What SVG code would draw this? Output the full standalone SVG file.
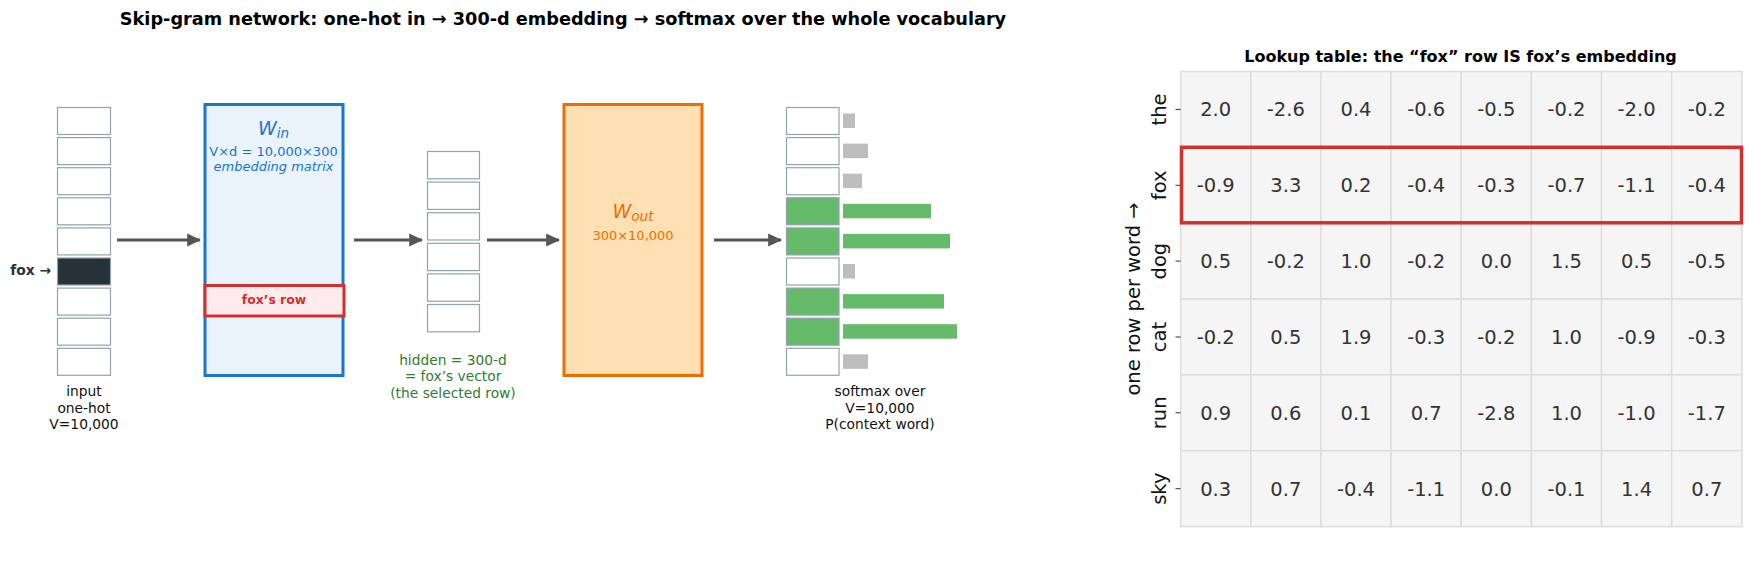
<svg xmlns="http://www.w3.org/2000/svg" width="1753" height="587" viewBox="0 0 1753 587">
<style>
text{font-family:"DejaVu Sans","Liberation Sans",sans-serif}
.cell{fill:#fff;stroke:#90A4AE;stroke-width:1.2}
.gcell{fill:#66BB6A;stroke:#90A4AE;stroke-width:1.2}
.lbl{font-size:13.8px;fill:#111;text-anchor:middle}
.conn{stroke:#555;stroke-width:2.8;fill:none}
.tc{fill:#F5F5F5;stroke:#DDDDDD;stroke-width:1.5}
.num{font-size:19.5px;fill:#333;text-anchor:middle}
.row{font-size:19.5px;fill:#111;text-anchor:middle}
.tick{stroke:#333;stroke-width:1}
</style>
<defs>
<marker id="ah" markerUnits="userSpaceOnUse" markerWidth="14" markerHeight="14" viewBox="0 0 12 12" refX="11" refY="6" orient="auto">
<path d="M0,0.5 L12,6 L0,11.5 Z" fill="#555"/>
</marker>
</defs>
<text x="563" y="25" font-size="17.7" font-weight="bold" text-anchor="middle" fill="#000">Skip-gram network: one-hot in → 300-d embedding → softmax over the whole vocabulary</text>

<g id="input">
<rect class="cell" x="57.5" y="107.5" width="53" height="27"/>
<rect class="cell" x="57.5" y="137.6" width="53" height="27"/>
<rect class="cell" x="57.5" y="167.7" width="53" height="27"/>
<rect class="cell" x="57.5" y="197.8" width="53" height="27"/>
<rect class="cell" x="57.5" y="227.9" width="53" height="27"/>
<rect x="57.5" y="258" width="53" height="27" fill="#263238" stroke="#90A4AE" stroke-width="1.2"/>
<rect class="cell" x="57.5" y="288.1" width="53" height="27"/>
<rect class="cell" x="57.5" y="318.2" width="53" height="27"/>
<rect class="cell" x="57.5" y="348.3" width="53" height="27"/>
<text x="51" y="274.5" font-size="13.8" font-weight="bold" fill="#263238" text-anchor="end">fox →</text>
<text class="lbl" x="84" y="396">input</text>
<text class="lbl" x="84" y="412.5">one-hot</text>
<text class="lbl" x="84" y="429">V=10,000</text>
</g>

<g id="w_in">
<rect x="205" y="104.5" width="138" height="271" fill="#EAF2FB" stroke="#1976D2" stroke-width="3"/>
<text x="273.5" y="135" fill="#1976D2" text-anchor="middle"><tspan font-size="19" font-style="italic">W</tspan><tspan font-size="13.5" font-style="italic" dy="3">in</tspan></text>
<text x="273.5" y="155.5" font-size="13" fill="#1976D2" text-anchor="middle">V×d = 10,000×300</text>
<text x="273.5" y="171" font-size="13" font-style="italic" fill="#1976D2" text-anchor="middle">embedding matrix</text>
<rect x="205" y="285.5" width="139" height="30.5" fill="#FFEBEE" stroke="#D32F2F" stroke-width="3"/>
<text x="274" y="304" font-size="12.4" font-weight="bold" fill="#D32F2F" text-anchor="middle">fox’s row</text>
</g>

<g id="hidden">
<rect class="cell" x="427.5" y="151.5" width="52" height="27.3"/>
<rect class="cell" x="427.5" y="182.1" width="52" height="27.3"/>
<rect class="cell" x="427.5" y="212.7" width="52" height="27.3"/>
<rect class="cell" x="427.5" y="243.3" width="52" height="27.3"/>
<rect class="cell" x="427.5" y="273.9" width="52" height="27.3"/>
<rect class="cell" x="427.5" y="304.5" width="52" height="27.3"/>
<text class="lbl" x="453" y="365" style="fill:#2E7D32">hidden = 300-d</text>
<text class="lbl" x="453" y="381.3" style="fill:#2E7D32">= fox’s vector</text>
<text class="lbl" x="453" y="397.5" style="fill:#2E7D32">(the selected row)</text>
</g>

<g id="w_out">
<rect x="564" y="104.5" width="138" height="271" fill="#FFE0B2" stroke="#EF6C00" stroke-width="3"/>
<text x="633" y="218" fill="#EF6C00" text-anchor="middle"><tspan font-size="19" font-style="italic">W</tspan><tspan font-size="13.5" font-style="italic" dy="3">out</tspan></text>
<text x="633" y="240" font-size="13" fill="#EF6C00" text-anchor="middle">300×10,000</text>
</g>

<g id="output">
<rect class="cell" x="786.5" y="107.5" width="52.5" height="27"/>
<rect class="cell" x="786.5" y="137.6" width="52.5" height="27"/>
<rect class="cell" x="786.5" y="167.7" width="52.5" height="27"/>
<rect class="gcell" x="786.5" y="197.8" width="52.5" height="27"/>
<rect class="gcell" x="786.5" y="227.9" width="52.5" height="27"/>
<rect class="cell" x="786.5" y="258" width="52.5" height="27"/>
<rect class="gcell" x="786.5" y="288.1" width="52.5" height="27"/>
<rect class="gcell" x="786.5" y="318.2" width="52.5" height="27"/>
<rect class="cell" x="786.5" y="348.3" width="52.5" height="27"/>
<rect x="843" y="113.5" width="12" height="14.5" fill="#BDBDBD"/>
<rect x="843" y="143.6" width="25" height="14.5" fill="#BDBDBD"/>
<rect x="843" y="173.7" width="19" height="14.5" fill="#BDBDBD"/>
<rect x="843" y="203.8" width="88" height="14.5" fill="#66BB6A"/>
<rect x="843" y="233.9" width="107" height="14.5" fill="#66BB6A"/>
<rect x="843" y="264" width="12" height="14.5" fill="#BDBDBD"/>
<rect x="843" y="294.1" width="101" height="14.5" fill="#66BB6A"/>
<rect x="843" y="324.2" width="114" height="14.5" fill="#66BB6A"/>
<rect x="843" y="354.3" width="25" height="14.5" fill="#BDBDBD"/>
<text class="lbl" x="880" y="396">softmax over</text>
<text class="lbl" x="880" y="412.5">V=10,000</text>
<text class="lbl" x="880" y="429">P(context word)</text>
</g>

<g id="connectors">
<line class="conn" x1="117" y1="240" x2="200" y2="240" marker-end="url(#ah)"/>
<line class="conn" x1="354" y1="240" x2="422" y2="240" marker-end="url(#ah)"/>
<line class="conn" x1="487" y1="240" x2="559" y2="240" marker-end="url(#ah)"/>
<line class="conn" x1="714" y1="240" x2="781" y2="240" marker-end="url(#ah)"/>
</g>

<g id="table">
<text x="1460.5" y="62" font-size="16" font-weight="bold" fill="#000" text-anchor="middle">Lookup table: the “fox” row IS fox’s embedding</text>
<g id="cells">
<rect class="tc" x="1180.6" y="71.5" width="70.16" height="75.85"/><rect class="tc" x="1250.76" y="71.5" width="70.16" height="75.85"/><rect class="tc" x="1320.92" y="71.5" width="70.16" height="75.85"/><rect class="tc" x="1391.08" y="71.5" width="70.16" height="75.85"/><rect class="tc" x="1461.24" y="71.5" width="70.16" height="75.85"/><rect class="tc" x="1531.4" y="71.5" width="70.16" height="75.85"/><rect class="tc" x="1601.56" y="71.5" width="70.16" height="75.85"/><rect class="tc" x="1671.72" y="71.5" width="70.16" height="75.85"/>
<rect class="tc" x="1180.6" y="147.35" width="70.16" height="75.85"/><rect class="tc" x="1250.76" y="147.35" width="70.16" height="75.85"/><rect class="tc" x="1320.92" y="147.35" width="70.16" height="75.85"/><rect class="tc" x="1391.08" y="147.35" width="70.16" height="75.85"/><rect class="tc" x="1461.24" y="147.35" width="70.16" height="75.85"/><rect class="tc" x="1531.4" y="147.35" width="70.16" height="75.85"/><rect class="tc" x="1601.56" y="147.35" width="70.16" height="75.85"/><rect class="tc" x="1671.72" y="147.35" width="70.16" height="75.85"/>
<rect class="tc" x="1180.6" y="223.2" width="70.16" height="75.85"/><rect class="tc" x="1250.76" y="223.2" width="70.16" height="75.85"/><rect class="tc" x="1320.92" y="223.2" width="70.16" height="75.85"/><rect class="tc" x="1391.08" y="223.2" width="70.16" height="75.85"/><rect class="tc" x="1461.24" y="223.2" width="70.16" height="75.85"/><rect class="tc" x="1531.4" y="223.2" width="70.16" height="75.85"/><rect class="tc" x="1601.56" y="223.2" width="70.16" height="75.85"/><rect class="tc" x="1671.72" y="223.2" width="70.16" height="75.85"/>
<rect class="tc" x="1180.6" y="299.05" width="70.16" height="75.85"/><rect class="tc" x="1250.76" y="299.05" width="70.16" height="75.85"/><rect class="tc" x="1320.92" y="299.05" width="70.16" height="75.85"/><rect class="tc" x="1391.08" y="299.05" width="70.16" height="75.85"/><rect class="tc" x="1461.24" y="299.05" width="70.16" height="75.85"/><rect class="tc" x="1531.4" y="299.05" width="70.16" height="75.85"/><rect class="tc" x="1601.56" y="299.05" width="70.16" height="75.85"/><rect class="tc" x="1671.72" y="299.05" width="70.16" height="75.85"/>
<rect class="tc" x="1180.6" y="374.9" width="70.16" height="75.85"/><rect class="tc" x="1250.76" y="374.9" width="70.16" height="75.85"/><rect class="tc" x="1320.92" y="374.9" width="70.16" height="75.85"/><rect class="tc" x="1391.08" y="374.9" width="70.16" height="75.85"/><rect class="tc" x="1461.24" y="374.9" width="70.16" height="75.85"/><rect class="tc" x="1531.4" y="374.9" width="70.16" height="75.85"/><rect class="tc" x="1601.56" y="374.9" width="70.16" height="75.85"/><rect class="tc" x="1671.72" y="374.9" width="70.16" height="75.85"/>
<rect class="tc" x="1180.6" y="450.75" width="70.16" height="75.85"/><rect class="tc" x="1250.76" y="450.75" width="70.16" height="75.85"/><rect class="tc" x="1320.92" y="450.75" width="70.16" height="75.85"/><rect class="tc" x="1391.08" y="450.75" width="70.16" height="75.85"/><rect class="tc" x="1461.24" y="450.75" width="70.16" height="75.85"/><rect class="tc" x="1531.4" y="450.75" width="70.16" height="75.85"/><rect class="tc" x="1601.56" y="450.75" width="70.16" height="75.85"/><rect class="tc" x="1671.72" y="450.75" width="70.16" height="75.85"/>
</g>
<g id="nums">
<text class="num" x="1215.7" y="116.3">2.0</text><text class="num" x="1285.8" y="116.3">-2.6</text><text class="num" x="1356" y="116.3">0.4</text><text class="num" x="1426.2" y="116.3">-0.6</text><text class="num" x="1496.3" y="116.3">-0.5</text><text class="num" x="1566.5" y="116.3">-0.2</text><text class="num" x="1636.6" y="116.3">-2.0</text><text class="num" x="1706.8" y="116.3">-0.2</text>
<text class="num" x="1215.7" y="192.2">-0.9</text><text class="num" x="1285.8" y="192.2">3.3</text><text class="num" x="1356" y="192.2">0.2</text><text class="num" x="1426.2" y="192.2">-0.4</text><text class="num" x="1496.3" y="192.2">-0.3</text><text class="num" x="1566.5" y="192.2">-0.7</text><text class="num" x="1636.6" y="192.2">-1.1</text><text class="num" x="1706.8" y="192.2">-0.4</text>
<text class="num" x="1215.7" y="268">0.5</text><text class="num" x="1285.8" y="268">-0.2</text><text class="num" x="1356" y="268">1.0</text><text class="num" x="1426.2" y="268">-0.2</text><text class="num" x="1496.3" y="268">0.0</text><text class="num" x="1566.5" y="268">1.5</text><text class="num" x="1636.6" y="268">0.5</text><text class="num" x="1706.8" y="268">-0.5</text>
<text class="num" x="1215.7" y="343.9">-0.2</text><text class="num" x="1285.8" y="343.9">0.5</text><text class="num" x="1356" y="343.9">1.9</text><text class="num" x="1426.2" y="343.9">-0.3</text><text class="num" x="1496.3" y="343.9">-0.2</text><text class="num" x="1566.5" y="343.9">1.0</text><text class="num" x="1636.6" y="343.9">-0.9</text><text class="num" x="1706.8" y="343.9">-0.3</text>
<text class="num" x="1215.7" y="419.7">0.9</text><text class="num" x="1285.8" y="419.7">0.6</text><text class="num" x="1356" y="419.7">0.1</text><text class="num" x="1426.2" y="419.7">0.7</text><text class="num" x="1496.3" y="419.7">-2.8</text><text class="num" x="1566.5" y="419.7">1.0</text><text class="num" x="1636.6" y="419.7">-1.0</text><text class="num" x="1706.8" y="419.7">-1.7</text>
<text class="num" x="1215.7" y="495.6">0.3</text><text class="num" x="1285.8" y="495.6">0.7</text><text class="num" x="1356" y="495.6">-0.4</text><text class="num" x="1426.2" y="495.6">-1.1</text><text class="num" x="1496.3" y="495.6">0.0</text><text class="num" x="1566.5" y="495.6">-0.1</text><text class="num" x="1636.6" y="495.6">1.4</text><text class="num" x="1706.8" y="495.6">0.7</text>
</g>
<g id="rowlabels">
<line class="tick" x1="1175.5" y1="109.4" x2="1180.6" y2="109.4"/>
<line class="tick" x1="1175.5" y1="185.3" x2="1180.6" y2="185.3"/>
<line class="tick" x1="1175.5" y1="261.1" x2="1180.6" y2="261.1"/>
<line class="tick" x1="1175.5" y1="337" x2="1180.6" y2="337"/>
<line class="tick" x1="1175.5" y1="412.8" x2="1180.6" y2="412.8"/>
<line class="tick" x1="1175.5" y1="488.7" x2="1180.6" y2="488.7"/>
<text class="row" transform="translate(1166,109.4) rotate(-90)">the</text>
<text class="row" transform="translate(1166,185.3) rotate(-90)">fox</text>
<text class="row" transform="translate(1166,261.1) rotate(-90)">dog</text>
<text class="row" transform="translate(1166,337) rotate(-90)">cat</text>
<text class="row" transform="translate(1166,412.8) rotate(-90)">run</text>
<text class="row" transform="translate(1166,488.7) rotate(-90)">sky</text>
<text class="row" transform="translate(1140,299) rotate(-90)">one row per word →</text>
</g>
<rect x="1181.5" y="147.3" width="560" height="75.5" fill="none" stroke="#D32F2F" stroke-width="3.5"/>
</g>
</svg>
